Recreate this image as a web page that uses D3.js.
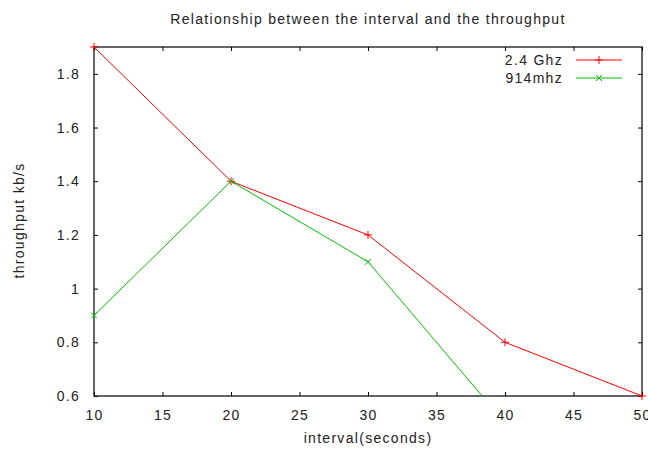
<!DOCTYPE html>
<html>
<head>
<meta charset="utf-8">
<script src="https://cdn.jsdelivr.net/npm/d3@7"></script>
<style>
  body { margin: 0; background: #fff; }
  svg text { font-family: "Liberation Sans", Arial, sans-serif; fill: #222; letter-spacing: 1.3px; }
</style>
</head>
<body>
<svg id="chart" width="648" height="450"></svg>
<script>
// data
const intervals = [10, 20, 30, 40, 50];
const ghz24 = [1.9, 1.4, 1.2, 0.8, 0.6];
const mhz914 = [0.9, 1.4, 1.1, 0.5];
const xTicks = [10, 15, 20, 25, 30, 35, 40, 45, 50];
const yTicks = [0.6, 0.8, 1, 1.2, 1.4, 1.6, 1.8];
const seriesNames = ["2.4 Ghz", "914mhz"];
const seriesColors = ["#ff0000", "#00c000"];

const svg = d3.select("#chart");
const margin = {top: 47, right: 6, bottom: 54, left: 94};
const width = 648 - margin.left - margin.right;
const height = 450 - margin.top - margin.bottom;

const x = d3.scaleLinear().domain([10, 50]).range([0, width]);
const y = d3.scaleLinear().domain([0.6, 1.9]).range([height, 0]);

const g = svg.append("g").attr("transform", `translate(${margin.left},${margin.top})`);

g.append("defs").append("clipPath").attr("id", "clip")
  .append("rect").attr("width", width).attr("height", height);

// inward ticks on all four sides, gnuplot style
const tick = 4;
const axB = g.append("g").attr("transform", `translate(0,${height})`)
  .call(d3.axisBottom(x).tickValues(xTicks).tickSizeInner(-tick).tickSizeOuter(0).tickPadding(14));
const axT = g.append("g")
  .call(d3.axisTop(x).tickValues(xTicks).tickSizeInner(-tick).tickSizeOuter(0).tickFormat(""));
const axL = g.append("g")
  .call(d3.axisLeft(y).tickValues(yTicks).tickSizeInner(-tick).tickSizeOuter(0).tickPadding(14).tickFormat(d3.format("~g")));
const axR = g.append("g").attr("transform", `translate(${width},0)`)
  .call(d3.axisRight(y).tickValues(yTicks).tickSizeInner(-tick).tickSizeOuter(0).tickFormat(""));

[axB, axT, axL, axR].forEach(a => {
  a.select(".domain").remove();
  a.selectAll("line").attr("stroke", "#000");
  a.selectAll("text").style("font-size", "14px").attr("fill", "#222");
});

g.append("rect").attr("width", width).attr("height", height)
  .attr("fill", "none").attr("stroke", "#000").attr("stroke-width", 1.2);

const series = [
  intervals.map((d, i) => [d, ghz24[i]]),
  mhz914.map((d, i) => [intervals[i], d])
];

const line = d3.line().x(d => x(d[0])).y(d => y(d[1]));
const plot = g.append("g").attr("clip-path", "url(#clip)");

function marker(sel, kind, color) {
  const s = 4;
  if (kind === 0) {
    sel.append("path").attr("d", `M${-s},0H${s}M0,${-s}V${s}`);
  } else {
    sel.append("path").attr("d", `M${-s * 0.75},${-s * 0.75}L${s * 0.75},${s * 0.75}M${-s * 0.75},${s * 0.75}L${s * 0.75},${-s * 0.75}`);
  }
  sel.selectAll("path").attr("stroke", color).attr("stroke-width", 1).attr("fill", "none");
}

series.forEach((pts, i) => {
  plot.append("path").datum(pts).attr("d", line)
    .attr("fill", "none").attr("stroke", seriesColors[i]).attr("stroke-width", 1);
  pts.filter(p => p[1] >= 0.6).forEach(p => {
    const m = g.append("g").attr("transform", `translate(${x(p[0])},${y(p[1])})`);
    marker(m, i, seriesColors[i]);
  });
});

// legend
seriesNames.forEach((name, i) => {
  const ly = 13 + i * 18;
  const lg = g.append("g");
  lg.append("text").attr("x", 469).attr("y", ly).attr("dy", "0.35em")
    .attr("text-anchor", "end").style("font-size", "14px").text(name);
  lg.append("line").attr("x1", 482).attr("x2", 528).attr("y1", ly).attr("y2", ly)
    .attr("stroke", seriesColors[i]).attr("stroke-width", 1);
  const m = lg.append("g").attr("transform", `translate(505,${ly})`);
  marker(m, i, seriesColors[i]);
});

// titles
svg.append("text").attr("x", margin.left + width / 2).attr("y", 24).attr("text-anchor", "middle")
  .style("font-size", "14px").text("Relationship between the interval and the throughput");
svg.append("text").attr("x", margin.left + width / 2).attr("y", 443).attr("text-anchor", "middle")
  .style("font-size", "14px").text("interval(seconds)");
svg.append("text").attr("transform", `translate(24,${margin.top + height / 2 - 1}) rotate(-90)`)
  .attr("text-anchor", "middle").style("font-size", "14px").text("throughput kb/s");
</script>
</body>
</html>
